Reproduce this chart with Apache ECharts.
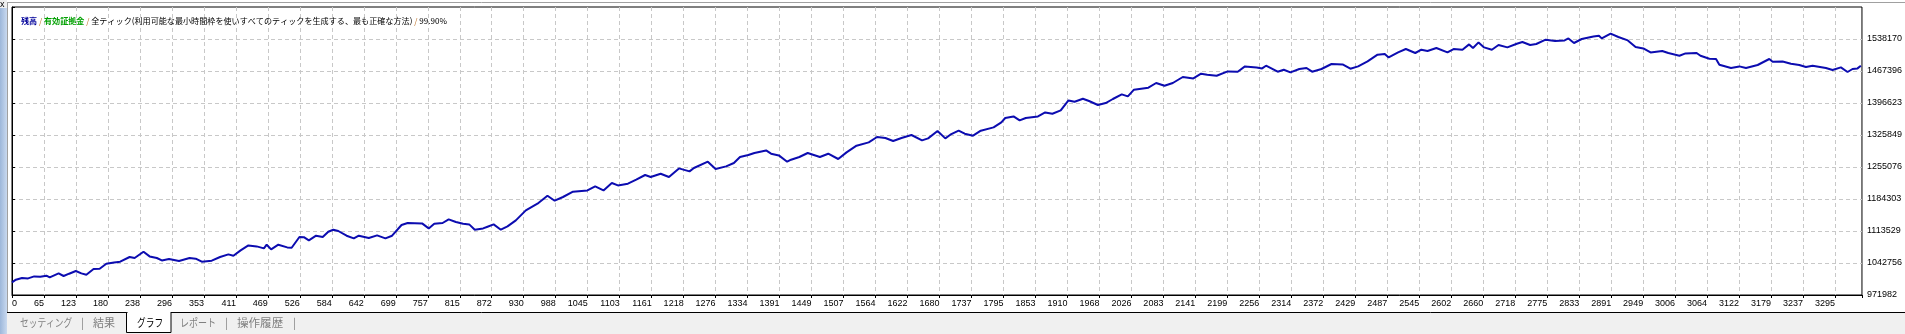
<!DOCTYPE html>
<html>
<head>
<meta charset="utf-8">
<script src="https://cdn.jsdelivr.net/npm/echarts@6/dist/echarts.min.js"></script>
<style>
html,body{margin:0;padding:0;background:#fff;}
#chart{width:1905px;height:334px;}
</style>
</head>
<body>
<div id="chart"></div>
<script>
// ---- data ----
const xTickLabels = ['0','65','123','180','238','296','353','411','469','526','584','642','699','757','815','872','930','988','1045','1103','1161','1218','1276','1334','1391','1449','1507','1564','1622','1680','1737','1795','1853','1910','1968','2026','2083','2141','2199','2256','2314','2372','2429','2487','2545','2602','2660','2718','2775','2833','2891','2949','3006','3064','3122','3179','3237','3295'];
const yTickLabels = ['971982','1042756','1113529','1184303','1255076','1325849','1396623','1467396','1538170'];

const tradeNo = [
  0,7,18,29,40,51,62,68,84,93,
  103,115,125,134,147,158,170,184,195,212,
  221,237,248,261,270,283,301,320,331,342,
  360,375,390,399,412,426,441,454,459,467,
  480,496,504,518,526,535,548,560,570,579,
  588,603,616,625,643,658,673,685,702,713,
  739,751,761,776,787,800,813,824,834,849,
  857,868,881,893,908,926,947,965,978,993,
  1011,1037,1051,1066,1081,1092,1110,1125,1141,1151,
  1169,1184,1202,1221,1229,1254,1268,1287,1301,1312,
  1327,1338,1359,1368,1382,1397,1404,1419,1434,1456,
  1471,1489,1504,1522,1544,1559,1574,1588,1603,1621,
  1640,1651,1668,1682,1691,1706,1717,1732,1746,1769,
  1783,1790,1805,1816,1827,1849,1862,1875,1890,1904,
  1915,1930,1941,1957,1971,1984,2000,2011,2022,2048,
  2062,2077,2092,2110,2129,2143,2154,2171,2191,2209,
  2222,2243,2253,2260,2281,2292,2304,2320,2333,2343,
  2360,2378,2398,2412,2426,2443,2461,2474,2481,2498,
  2512,2529,2540,2551,2567,2587,2598,2614,2626,2633,
  2643,2653,2667,2679,2695,2712,2722,2736,2747,2764,
  2781,2798,2805,2815,2829,2850,2860,2865,2881,2895,
  2912,2926,2940,2953,2974,2985,3005,3016,3036,3043,
  3059,3071,3077,3098,3113,3125,3146,3167,3173,3191,
  3206,3221,3233,3245,3269,3281,3296,3308,3317,3326,
  3332
];
const balance = [
  1000000,1005820,1009580,1008700,1013120,1012460,1014670,1010910,1019750,1014000,
  1019090,1025060,1019750,1016880,1029490,1030200,1041210,1044080,1045630,1056030,
  1053810,1067750,1057350,1053810,1048510,1051600,1047180,1053810,1052270,1045630,
  1047840,1056030,1061780,1058900,1070620,1081680,1079470,1075050,1083230,1072830,
  1083230,1077260,1076500,1100260,1099800,1092740,1103130,1100260,1111980,1116400,
  1113530,1103130,1097160,1103130,1098050,1103800,1097160,1103130,1126800,1131220,
  1130340,1119280,1129670,1131220,1139180,1133430,1129670,1128130,1116400,1119280,
  1123040,1128130,1116400,1123700,1136970,1159090,1173910,1191600,1180540,1188730,
  1200450,1203320,1212170,1203320,1219690,1214380,1218140,1226990,1237380,1232960,
  1240260,1232960,1251980,1245340,1252860,1266800,1250650,1256400,1263920,1277190,
  1281620,1286040,1291790,1284490,1280730,1266800,1271220,1277190,1286040,1277190,
  1284490,1272770,1287370,1302180,1309480,1321430,1319210,1312580,1319210,1325850,
  1313910,1318330,1334700,1318330,1326510,1335360,1328720,1324300,1335360,1342660,
  1353720,1363450,1366990,1358140,1363450,1366990,1375830,1372960,1380260,1402370,
  1399500,1406130,1401050,1392200,1396620,1405470,1415640,1411220,1426040,1430460,
  1440860,1434890,1440860,1454130,1451030,1461430,1459210,1457000,1466510,1465850,
  1477570,1475360,1473150,1479120,1465850,1470270,1464300,1471820,1474030,1465850,
  1471820,1482880,1481900,1472480,1477570,1488630,1503450,1504990,1497480,1508530,
  1516050,1507210,1514510,1511630,1518260,1508530,1516050,1514510,1526230,1518260,
  1530650,1519590,1514510,1524900,1519590,1527780,1531540,1524900,1527110,1536620,
  1533750,1535070,1539500,1529320,1538170,1543920,1545470,1539500,1549890,1542590,
  1535070,1520480,1517380,1508530,1511630,1507210,1501230,1506320,1507210,1501230,
  1494600,1493940,1481330,1474030,1477570,1474030,1480670,1493940,1487970,1488500,
  1483540,1480670,1476240,1479120,1474030,1469610,1475360,1465180,1471820,1473150,
  1479120
];

// ---- axis settings ----
const X_MAX = 3334;
const X_STEP = 57.64;
const Y_MIN = 971982;
const Y_STEP = 70773.5;
const Y_MAX = Y_MIN + 9 * Y_STEP;

const chart = echarts.init(document.getElementById('chart'), null, {renderer: 'canvas'});
const labelFont = 'Liberation Sans, Arial, sans-serif';
const jpFont = '"Noto Sans CJK JP", sans-serif';
const tabFont = '11px "Noto Sans CJK JP"';
const TITLE_SIZE = 8.1;

function tab(x, text, sx, color) {
  return {type: 'text', silent: true, x: x, y: 323, scaleX: sx, scaleY: 1,
    style: {x: 0, y: 0, text: text, font: tabFont, fill: color, verticalAlign: 'middle'}};
}

const option = {
  animation: false,
  backgroundColor: '#ffffff',
  title: {
    left: 16, top: 10,
    text: '{n|残高}{s| / }{g|有効証拠金}{s| / }{k|全ティック(利用可能な最小時間枠を使いすべてのティックを生成する、最も正確な方法)}{s| / }{k|99.90%}',
    textStyle: {
      fontSize: TITLE_SIZE, fontFamily: jpFont, lineHeight: 11, fontWeight: 'normal',
      rich: {
        n: {color: '#00009a', fontSize: TITLE_SIZE, fontFamily: jpFont, fontWeight: 'bold'},
        s: {color: '#c07830', fontSize: TITLE_SIZE, fontFamily: jpFont},
        g: {color: '#00a000', fontSize: TITLE_SIZE, fontFamily: jpFont, fontWeight: 'bold'},
        k: {color: '#000000', fontSize: TITLE_SIZE, fontFamily: jpFont}
      }
    }
  },
  grid: {
    left: 12, top: 7, width: 1851, height: 288,
    show: true, borderColor: '#000', borderWidth: 1, backgroundColor: 'transparent'
  },
  xAxis: {
    type: 'value', min: 0, max: X_MAX, interval: X_STEP,
    axisLine: {show: true, lineStyle: {color: '#000', width: 1}},
    axisTick: {show: true, length: 3, lineStyle: {color: '#000'}},
    axisLabel: {
      show: true, margin: 4, fontSize: 9, color: '#000', fontFamily: labelFont,
      align: 'right', alignMinLabel: 'left', showMaxLabel: true,
      formatter: function (v) {
        const k = Math.round(v / X_STEP);
        if (Math.abs(v - k * X_STEP) > 0.01) return '';
        return xTickLabels[k] !== undefined ? xTickLabels[k] : '';
      }
    },
    splitLine: {show: true, showMinLine: false, showMaxLine: false, lineStyle: {color: '#c8c8c8', type: [4, 3], width: 1}}
  },
  yAxis: {
    type: 'value', position: 'right', min: Y_MIN, max: Y_MAX, interval: Y_STEP,
    axisLine: {show: true, lineStyle: {color: '#000', width: 1}},
    axisTick: {show: true, length: 3, lineStyle: {color: '#000'}},
    axisLabel: {
      show: true, margin: 5, fontSize: 9, color: '#000', fontFamily: labelFont,
      formatter: function (v) {
        const k = Math.round((v - Y_MIN) / Y_STEP);
        return yTickLabels[k] !== undefined ? yTickLabels[k] : '';
      }
    },
    splitLine: {show: true, showMinLine: false, showMaxLine: false, lineStyle: {color: '#c8c8c8', type: [4, 3], width: 1}}
  },
  series: [{
    type: 'line', silent: true,
    data: tradeNo.map((t, i) => [t, balance[i]]),
    showSymbol: false, symbol: 'none',
    lineStyle: {color: '#0c0cb0', width: 2}
  }],
  graphic: [
    // window chrome
    {type: 'rect', silent: true, shape: {x: 0, y: 0, width: 7, height: 334}, style: {fill: new echarts.graphic.LinearGradient(1, 0, 0, 0, [{offset: 0, color: '#c9d9ef'}, {offset: 1, color: '#9db7da'}])}},
    {type: 'rect', silent: true, shape: {x: 0, y: 0, width: 7, height: 8}, style: {fill: '#f0f0f0'}},
    {type: 'text', silent: true, style: {x: 0, y: 0, text: 'x', font: '9px Liberation Sans', fill: '#000'}},
    {type: 'line', silent: true, shape: {x1: 7, y1: 2.5, x2: 1905, y2: 2.5}, style: {stroke: '#a0a0a0', lineWidth: 1}},
    {type: 'line', silent: true, shape: {x1: 7.5, y1: 2.5, x2: 7.5, y2: 313}, style: {stroke: '#a0a0a0', lineWidth: 1}},
    // tab bar
    {type: 'rect', silent: true, shape: {x: 7, y: 313, width: 1898, height: 21}, style: {fill: '#f0f0f0'}},
    {type: 'line', silent: true, shape: {x1: 7, y1: 312.5, x2: 1905, y2: 312.5}, style: {stroke: '#000', lineWidth: 1}},
    {type: 'rect', silent: true, shape: {x: 126.5, y: 312.5, width: 44.5, height: 20}, style: {fill: '#ffffff', stroke: '#000', lineWidth: 1}},
    {type: 'line', silent: true, shape: {x1: 127.5, y1: 312.5, x2: 170.5, y2: 312.5}, style: {stroke: '#ffffff', lineWidth: 1}},
    tab(20, 'セッティング', 0.79, '#808080'),
    tab(81, '|', 1, '#808080'),
    tab(93, '結果', 1, '#808080'),
    tab(137, 'グラフ', 0.79, '#000000'),
    tab(180, 'レポート', 0.82, '#808080'),
    tab(225, '|', 1, '#808080'),
    tab(237, '操作履歴', 1.05, '#808080'),
    tab(293, '|', 1, '#808080')
  ]
};
chart.setOption(option);
</script>
</body>
</html>
